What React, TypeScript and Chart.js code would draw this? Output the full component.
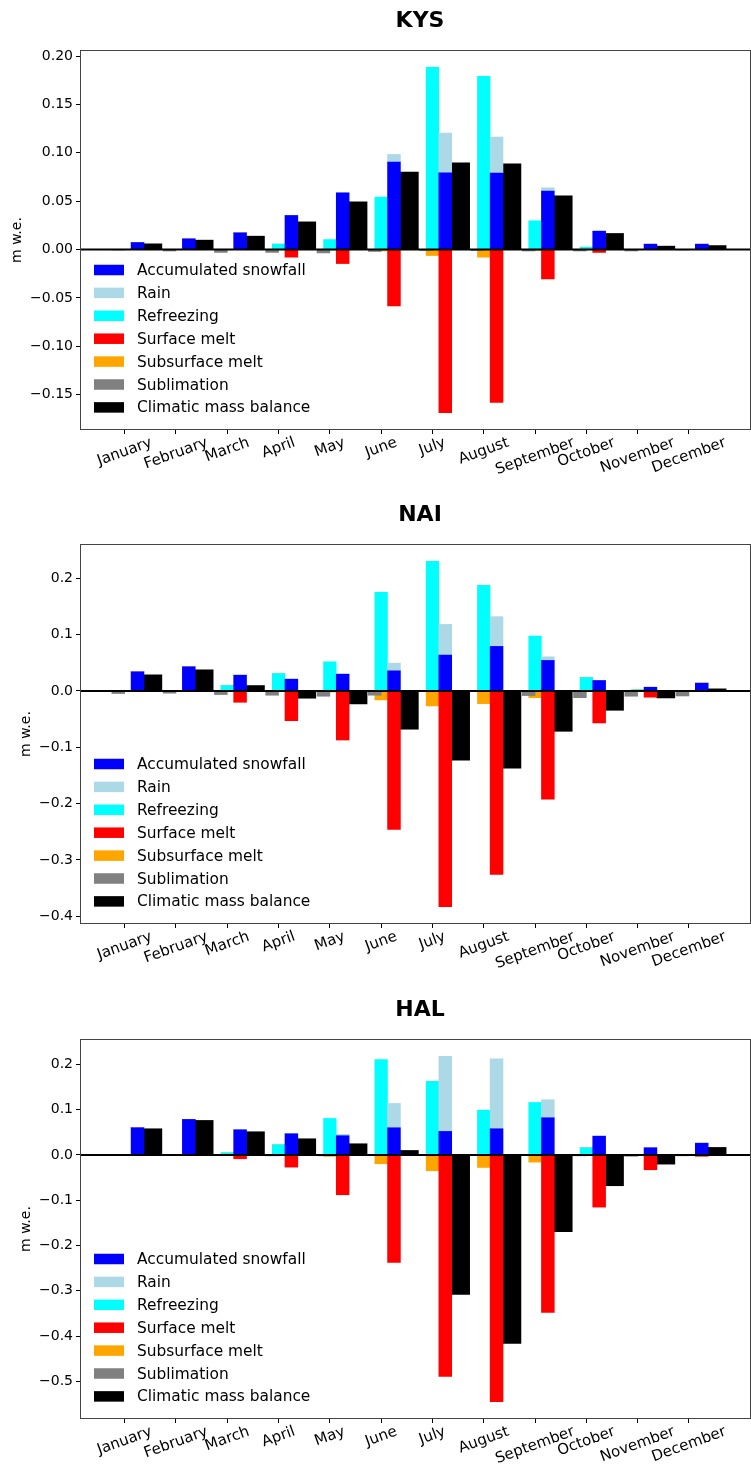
import React, { useEffect, useRef } from 'react';
import { Chart, registerables } from 'chart.js';

Chart.register(...registerables);
Chart.defaults.font.family = "'DejaVu Sans', sans-serif";

const months = ['January', 'February', 'March', 'April', 'May', 'June', 'July', 'August', 'September', 'October', 'November', 'December'];

// ---------- KYS ----------
const kysSnowfall = [0.0072, 0.011, 0.0172, 0.0352, 0.0586, 0.0904, 0.0794, 0.079, 0.0604, 0.019, 0.0055, 0.0055];
const kysRain = [0, 0, 0, 0, 0, 0.0079, 0.041, 0.0373, 0.0034, 0, 0, 0];
const kysRefreezing = [0, 0, 0, 0.0056, 0.0103, 0.0542, 0.1884, 0.179, 0.0297, 0.0024, 0, 0];
const kysSurfaceMelt = [0, 0, 0, -0.0079, -0.0145, -0.0583, -0.1687, -0.158, -0.0304, -0.003, 0, 0];
const kysSubsurfaceMelt = [0, 0, 0, 0, -0.0005, -0.0015, -0.0062, -0.0079, -0.001, 0, 0, 0];
const kysSublimation = [-0.0005, -0.0015, -0.003, -0.003, -0.0035, -0.002, -0.001, -0.001, -0.0015, -0.0015, -0.0015, -0.0005];
const kysCmb = [0.0059, 0.0097, 0.0138, 0.0286, 0.0493, 0.08, 0.0897, 0.0887, 0.0555, 0.0166, 0.0035, 0.0041];
const kysYTicks = [-0.15, -0.1, -0.05, 0, 0.05, 0.1, 0.15, 0.2];
const kysYTickLabels = ['\u22120.15', '\u22120.10', '\u22120.05', '0.00', '0.05', '0.10', '0.15', '0.20'];

// ---------- NAI ----------
const naiSnowfall = [0.0338, 0.0427, 0.0279, 0.0208, 0.0297, 0.0356, 0.0635, 0.0789, 0.054, 0.0184, 0.0065, 0.0137];
const naiRain = [0, 0, 0, 0, 0, 0.0136, 0.0545, 0.0528, 0.0065, 0, 0, 0];
const naiRefreezing = [0, 0, 0.0095, 0.0308, 0.0516, 0.175, 0.23, 0.1874, 0.0973, 0.0237, 0.002, 0];
const naiSurfaceMelt = [0, 0, -0.0202, -0.0528, -0.0872, -0.2456, -0.383, -0.3256, -0.192, -0.0569, -0.0112, 0];
const naiSubsurfaceMelt = [0, 0, 0, 0, -0.002, -0.016, -0.0267, -0.0226, -0.012, 0, 0, 0];
const naiSublimation = [-0.0047, -0.0041, -0.0065, -0.0077, -0.0095, -0.0077, -0.001, -0.001, -0.0083, -0.012, -0.0095, -0.009];
const naiCmb = [0.0285, 0.0374, 0.0095, -0.013, -0.0231, -0.068, -0.1228, -0.137, -0.0717, -0.0344, -0.0125, 0.0036];
const naiYTicks = [-0.4, -0.3, -0.2, -0.1, 0, 0.1, 0.2];
const naiYTickLabels = ['\u22120.4', '\u22120.3', '\u22120.2', '\u22120.1', '0.0', '0.1', '0.2'];

// ---------- HAL ----------
const halSnowfall = [0.06, 0.0784, 0.0556, 0.0468, 0.0424, 0.06, 0.0519, 0.0578, 0.0821, 0.0415, 0.0159, 0.026];
const halRain = [0, 0, 0, 0, 0.003, 0.0537, 0.166, 0.1546, 0.0397, 0, 0, 0];
const halRefreezing = [0, 0, 0.0048, 0.0225, 0.0806, 0.2108, 0.1623, 0.0989, 0.1159, 0.0159, 0, 0];
const halSurfaceMelt = [0, 0, -0.0084, -0.0269, -0.0879, -0.2373, -0.489, -0.545, -0.348, -0.1152, -0.0327, -0.003];
const halSubsurfaceMelt = [0, 0, 0, 0, -0.003, -0.0195, -0.0349, -0.0276, -0.0159, 0, 0, 0];
const halSublimation = [0, 0, -0.001, -0.002, -0.002, -0.001, -0.001, -0.001, -0.001, -0.002, -0.003, -0.002];
const halCmb = [0.0578, 0.0762, 0.0512, 0.0357, 0.0247, 0.0099, -0.308, -0.416, -0.1695, -0.068, -0.0203, 0.0166];
const halYTicks = [-0.5, -0.4, -0.3, -0.2, -0.1, 0, 0.1, 0.2];
const halYTickLabels = ['\u22120.5', '\u22120.4', '\u22120.3', '\u22120.2', '\u22120.1', '0.0', '0.1', '0.2'];

type Station = {
  name: string;
  series: number[][]; // in legend order
  yTicks: number[];
  yTickLabels: string[];
};

const stations: Station[] = [
  { name: 'KYS', series: [kysSnowfall, kysRain, kysRefreezing, kysSurfaceMelt, kysSubsurfaceMelt, kysSublimation, kysCmb], yTicks: kysYTicks, yTickLabels: kysYTickLabels },
  { name: 'NAI', series: [naiSnowfall, naiRain, naiRefreezing, naiSurfaceMelt, naiSubsurfaceMelt, naiSublimation, naiCmb], yTicks: naiYTicks, yTickLabels: naiYTickLabels },
  { name: 'HAL', series: [halSnowfall, halRain, halRefreezing, halSurfaceMelt, halSubsurfaceMelt, halSublimation, halCmb], yTicks: halYTicks, yTickLabels: halYTickLabels },
];

// style of each series (legend order)
const seriesStyle = [
  { label: 'Accumulated snowfall', color: '#0000ff', offset: 0.25, width: 0.25, stack: 'mid', order: 0 },
  { label: 'Rain', color: '#add8e6', offset: 0.25, width: 0.25, stack: 'mid', order: 0 },
  { label: 'Refreezing', color: '#00ffff', offset: 0, width: 0.245, stack: 'left', order: 0 },
  { label: 'Surface melt', color: '#ff0000', offset: 0.25, width: 0.25, stack: 'mid', order: 0 },
  { label: 'Subsurface melt', color: '#ffa500', offset: 0, width: 0.245, stack: 'left', order: 0 },
  { label: 'Sublimation', color: '#808080', offset: -0.125, width: 0.25, stack: 'subl', order: -1 },
  { label: 'Climatic mass balance', color: '#000000', offset: 0.55, width: 0.35, stack: 'cmb', order: 0 },
];

const W = 751;
const H = 478;
const PANEL_TOPS = [0, 494, 989];
const PLOT_LEFT = 80;
const PLOT_TOP = 50;
const X_MIN = -0.871;
const X_MAX = 12.21;

function yLimits(st: Station): [number, number] {
  const [snow, rain, refr, melt, sub, subl, cmb] = st.series;
  let hi = 0;
  let lo = 0;
  for (let i = 0; i < months.length; i++) {
    hi = Math.max(hi, snow[i] + rain[i], refr[i], cmb[i]);
    lo = Math.min(lo, melt[i], sub[i], subl[i], cmb[i]);
  }
  const m = (hi - lo) * 0.05;
  return [lo - m, hi + m];
}

function Panel({ st, top }: { st: Station; top: number }) {
  const ref = useRef<HTMLCanvasElement | null>(null);
  useEffect(() => {
    if (!ref.current) return;
    const unitPx = (W - PLOT_LEFT) / (X_MAX - X_MIN);
    const [yMin, yMax] = yLimits(st);
    const datasets = seriesStyle.map((s, k) => ({
      label: s.label,
      data: st.series[k].map((v, i) => ({ x: i + s.offset, y: v })),
      backgroundColor: s.color,
      borderWidth: 0,
      grouped: false,
      barThickness: s.width * unitPx,
      stack: s.stack,
      order: s.order,
    }));

    const decor = {
      id: 'decor',
      afterDatasetsDraw(chart: any) {
        const { ctx, chartArea: a, scales } = chart;
        const y0 = scales.y.getPixelForValue(0);
        ctx.save();
        ctx.strokeStyle = '#000';
        ctx.lineWidth = 2;
        ctx.beginPath();
        ctx.moveTo(a.left, y0);
        ctx.lineTo(a.right, y0);
        ctx.stroke();
        ctx.lineWidth = 1;
        ctx.strokeStyle = '#444';
        ctx.strokeRect(a.left + 0.5, a.top + 0.5, a.right - a.left - 1, a.bottom - a.top - 1);
        ctx.restore();
      },
      afterDraw(chart: any) {
        const { ctx, chartArea: a, scales } = chart;
        ctx.save();
        ctx.fillStyle = '#000';
        // title
        ctx.font = "bold 22px 'DejaVu Sans'";
        ctx.textAlign = 'center';
        ctx.textBaseline = 'middle';
        ctx.fillText(st.name, 420, 21);
        // legend
        ctx.font = "15.4px 'DejaVu Sans'";
        ctx.textAlign = 'left';
        seriesStyle.forEach((s, i) => {
          const cy = a.bottom - 160 + i * 22.9;
          ctx.fillStyle = s.color;
          ctx.fillRect(94, cy - 5.25, 30, 10.5);
          ctx.fillStyle = '#000';
          ctx.fillText(s.label, 137, cy + 1);
        });
        // x tick labels rotated
        ctx.font = "15px 'DejaVu Sans'";
        ctx.textAlign = 'center';
        ctx.textBaseline = 'middle';
        const ang = (20 * Math.PI) / 180;
        months.forEach((m, i) => {
          const px = scales.x.getPixelForValue(i);
          const w = ctx.measureText(m).width;
          const hb = w * Math.sin(ang) + 17.5 * Math.cos(ang);
          ctx.save();
          ctx.translate(px, a.bottom + 4 + hb / 2);
          ctx.rotate(-ang);
          ctx.fillText(m, 0, 0);
          ctx.restore();
        });
        // y label
        ctx.font = "14px 'DejaVu Sans'";
        let maxW = 0;
        st.yTickLabels.forEach((t) => {
          maxW = Math.max(maxW, ctx.measureText(t).width);
        });
        const lx = a.left - 7 - maxW - 4 - 9;
        ctx.save();
        ctx.translate(lx, (a.top + a.bottom) / 2);
        ctx.rotate(-Math.PI / 2);
        ctx.fillText('m w.e.', 0, 0);
        ctx.restore();
        ctx.restore();
      },
    };

    const chart = new Chart(ref.current, {
      type: 'bar',
      data: { datasets: datasets as any },
      options: {
        animation: false,
        responsive: false,
        devicePixelRatio: 1,
        layout: { padding: { top: PLOT_TOP, left: 0, right: 0, bottom: 0 } },
        plugins: { legend: { display: false }, title: { display: false }, tooltip: { enabled: false } },
        scales: {
          x: {
            type: 'linear',
            min: X_MIN,
            max: X_MAX,
            offset: false,
            stacked: false,
            grid: { display: true, drawOnChartArea: false, drawTicks: true, tickLength: 4, color: '#000', offset: false },
            border: { display: false },
            ticks: { display: false },
            afterBuildTicks: (axis: any) => {
              axis.ticks = months.map((_, i) => ({ value: i }));
            },
            afterFit: (s: any) => {
              s.height = H - 430;
            },
          },
          y: {
            type: 'linear',
            min: yMin,
            max: yMax,
            stacked: true,
            grid: { display: true, drawOnChartArea: false, drawTicks: true, tickLength: 4, color: '#000' },
            border: { display: false },
            afterBuildTicks: (axis: any) => {
              axis.ticks = st.yTicks.map((v) => ({ value: v }));
            },
            ticks: {
              color: '#000',
              font: { size: 14 },
              padding: 3,
              autoSkip: false,
              callback: (_v: any, i: number) => st.yTickLabels[i],
            },
            afterFit: (s: any) => {
              s.width = PLOT_LEFT;
            },
          },
        },
      } as any,
      plugins: [decor],
    });
    return () => chart.destroy();
  }, [st]);

  return (
    <canvas
      ref={ref}
      width={W}
      height={H}
      style={{ position: 'absolute', left: 0, top, display: 'block', width: W, height: H }}
    />
  );
}

export default function App() {
  return (
    <div style={{ position: 'absolute', left: 0, top: 0, width: W, height: 1467, background: '#fff' }}>
      {stations.map((st, i) => (
        <Panel key={st.name} st={st} top={PANEL_TOPS[i]} />
      ))}
    </div>
  );
}
